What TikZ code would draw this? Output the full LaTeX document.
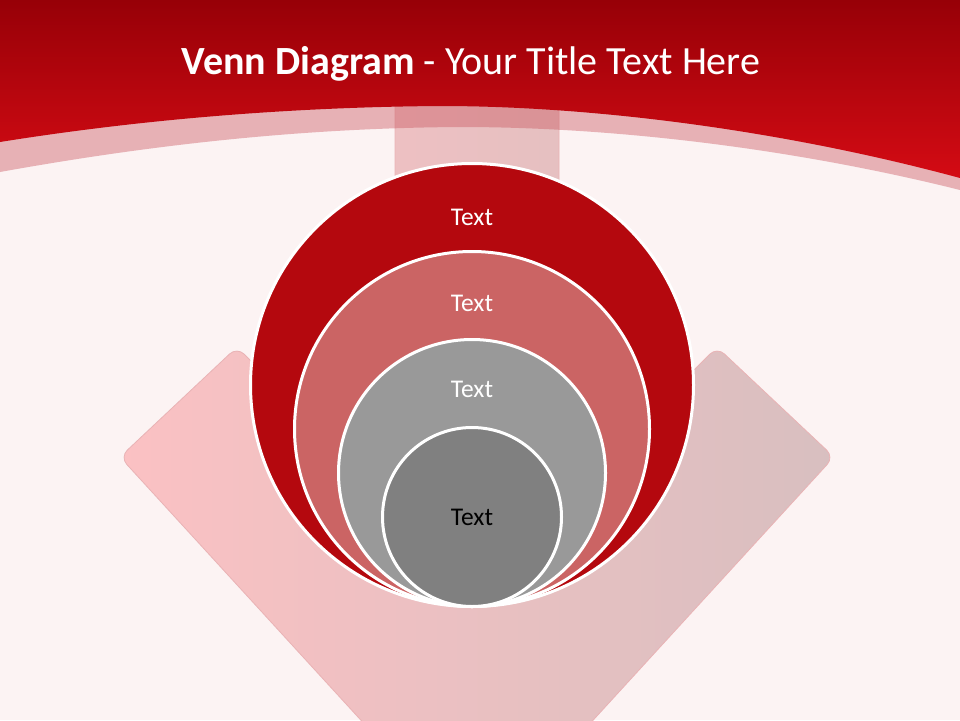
\documentclass[tikz,border=0pt]{standalone}
\usepackage{fontspec}
\setmainfont{Carlito}
\usepackage{tikz}
\usetikzlibrary{calc}
\usetikzlibrary{positioning}

\definecolor{bgpink}{HTML}{FCF3F3}
\definecolor{hdtop}{HTML}{970007}
\definecolor{hdmid}{HTML}{C6090F}
\definecolor{hdbot}{HTML}{D40B14}
\definecolor{bandred}{HTML}{C8505A}
\definecolor{arrowL}{HTML}{FBC1C3}
\definecolor{arrowR}{HTML}{D8BFC0}
\definecolor{arrowE}{HTML}{E9B3B5}
\definecolor{ringA}{HTML}{B4080E}
\definecolor{ringB}{HTML}{CB6464}
\definecolor{ringC}{HTML}{999999}
\definecolor{ringD}{HTML}{808080}

\begin{document}
\begin{tikzpicture}[x=1pt,y=-1pt,inner sep=0pt,
  ring/.style={draw=white,line width=3pt,circle,anchor=south},
  txt/.style={font=\fontsize{25.5}{30}\selectfont,text=white}]
\useasboundingbox (0,0) rectangle (960,720);
\clip (0,0) rectangle (960,720);
\fill [bgpink] (0,0) rectangle (960,720);
% big arrow behind the rings
\shade [left color=arrowL,right color=arrowR,draw=arrowE,line width=.8pt,rounded corners=10pt]
  (395,90) -- (395,505) -- (237,347) -- (120,457) -- (477,847)
  -- (834,457) -- (717,347) -- (559,505) -- (559,90) -- cycle;
% header
\fill [bandred,fill opacity=.4] (0,0) -- (960,0) -- (960,190)
  .. controls (800,150) and (620,127) .. (460,127)
  .. controls (300,128) and (150,145) .. (0,172) -- cycle;
\shade [top color=hdtop,middle color=hdmid,bottom color=hdbot] (0,0) -- (960,0) -- (960,178)
  .. controls (790,132) and (600,106) .. (440,106)
  .. controls (300,107) and (150,118) .. (0,142) -- cycle;
\draw node [anchor=base,text=white,font=\fontsize{40}{46}\selectfont] (title) at (471,74)
  {\textbf{Venn Diagram} - Your Title Text Here};
% rings, all touching at the bottom
\coordinate (base) at (472,608);
\draw node [ring,fill=ringA,minimum size=443pt] (C1) at (base) {};
\draw node [ring,fill=ringB,minimum size=355pt] (C2) at (base) {};
\draw node [ring,fill=ringC,minimum size=267pt] (C3) at (base) {};
\draw node [ring,fill=ringD,minimum size=179pt] (C4) at (base) {};
\draw node [txt] (T1) at ($ (C1.north) + (0,55) $) {Text};
\draw node [txt] (T2) at ($ (C2.north) + (0,53) $) {Text};
\draw node [txt] (T3) at ($ (C3.north) + (0,51) $) {Text};
\draw node [txt,text=black] (T4) at (C4.center) {Text};
\end{tikzpicture}
\end{document}
